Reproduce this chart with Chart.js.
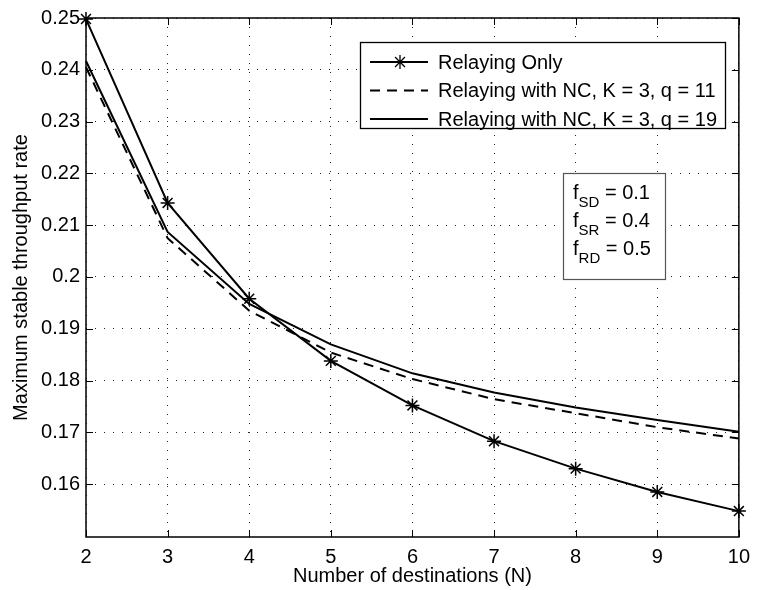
<!DOCTYPE html>
<html lang="en">
  <head>
    <meta charset="UTF-8" />
    <title>Maximum stable throughput rate</title>
    <script src="https://cdn.jsdelivr.net/npm/chart.js"></script>
    <style>
      html,
      body {
        margin: 0;
        padding: 0;
        background: #fff;
      }
      #wrap {
        width: 758px;
        height: 590px;
      }
    </style>
  </head>
  <body>
    <div id="wrap"><canvas id="chart" width="758" height="590"></canvas></div>
    <script>
      // number of destinations
      const destinations = [2, 3, 4, 5, 6, 7, 8, 9, 10]
      // throughput per series
      const relayingOnly = [0.2498, 0.2143, 0.1958, 0.1838, 0.1752, 0.1683, 0.163, 0.1585, 0.1548]
      const relayingNC11 = [0.2405, 0.2075, 0.1935, 0.1854, 0.1803, 0.1764, 0.1737, 0.171, 0.1688]
      const relayingNC19 = [0.2417, 0.2087, 0.1948, 0.187, 0.1814, 0.1777, 0.1748, 0.1724, 0.1701]
      const seriesNames = [
        'Relaying Only',
        'Relaying with NC, K = 3, q = 11',
        'Relaying with NC, K = 3, q = 19'
      ]
      const xTicks = [2, 3, 4, 5, 6, 7, 8, 9, 10]
      const yTicks = [0.16, 0.17, 0.18, 0.19, 0.2, 0.21, 0.22, 0.23, 0.24, 0.25]
      const yTickLabels = ['0.16', '0.17', '0.18', '0.19', '0.2', '0.21', '0.22', '0.23', '0.24', '0.25']
      // annotation text: [main, subscript, rest]
      const noteLines = [
        ['f', 'SD', ' = 0.1'],
        ['f', 'SR', ' = 0.4'],
        ['f', 'RD', ' = 0.5']
      ]

      const FONT = '"Liberation Sans", Arial, Helvetica, sans-serif'

      const toPoints = ys => ys.map((y, i) => ({ x: destinations[i], y: y }))

      // box, inward ticks, legend and parameter box, MATLAB style
      const matlabPlugin = {
        id: 'matlab',
        afterDatasetsDraw(chart) {
          const ctx = chart.ctx
          const a = chart.chartArea
          const xs = chart.scales.x
          const ys = chart.scales.y
          ctx.save()
          ctx.strokeStyle = '#000'
          ctx.lineWidth = 1.5
          ctx.strokeRect(a.left, a.top, a.right - a.left, a.bottom - a.top)
          ctx.lineWidth = 1
          const tl = 7
          ctx.beginPath()
          xTicks.forEach(v => {
            const px = Math.round(xs.getPixelForValue(v)) + 0.5
            ctx.moveTo(px, a.bottom)
            ctx.lineTo(px, a.bottom - tl)
            ctx.moveTo(px, a.top)
            ctx.lineTo(px, a.top + tl)
          })
          yTicks.forEach(v => {
            const py = Math.round(ys.getPixelForValue(v)) + 0.5
            ctx.moveTo(a.left, py)
            ctx.lineTo(a.left + tl, py)
            ctx.moveTo(a.right, py)
            ctx.lineTo(a.right - tl, py)
          })
          ctx.stroke()

          // legend
          const lx = 360, ly = 42, lw = 365, lh = 86
          ctx.fillStyle = '#fff'
          ctx.fillRect(lx, ly, lw, lh)
          ctx.lineWidth = 1.3
          ctx.strokeRect(lx + 0.5, ly + 0.5, lw, lh)
          ctx.font = '20px ' + FONT
          ctx.textBaseline = 'middle'
          ctx.textAlign = 'left'
          chart.data.datasets.forEach((ds, i) => {
            const cy = ly + 20 + i * 28.5
            ctx.save()
            ctx.strokeStyle = '#000'
            ctx.lineWidth = ds.borderWidth
            ctx.setLineDash(ds.borderDash || [])
            ctx.beginPath()
            ctx.moveTo(lx + 10, cy)
            ctx.lineTo(lx + 68, cy)
            ctx.stroke()
            ctx.restore()
            if (ds.pointRadius > 0) {
              Chart.helpers.drawPoint(
                ctx,
                { pointStyle: 'star', radius: ds.pointRadius, borderWidth: 1.5 },
                lx + 40,
                cy
              )
            }
            ctx.fillStyle = '#000'
            ctx.fillText(ds.label, lx + 78, cy + 1)
          })

          // parameter box
          const bx = 563, by = 173, bw = 102, bh = 106
          ctx.fillStyle = '#fff'
          ctx.fillRect(bx, by, bw, bh)
          ctx.strokeStyle = '#555'
          ctx.lineWidth = 1.2
          ctx.strokeRect(bx + 0.5, by + 0.5, bw, bh)
          ctx.fillStyle = '#000'
          ctx.textBaseline = 'alphabetic'
          noteLines.forEach((ln, i) => {
            const base = by + 26 + i * 28
            let x = bx + 10
            ctx.font = '20px ' + FONT
            ctx.fillText(ln[0], x, base)
            x += ctx.measureText(ln[0]).width
            ctx.font = '15px ' + FONT
            ctx.fillText(ln[1], x, base + 8)
            x += ctx.measureText(ln[1]).width
            ctx.font = '20px ' + FONT
            ctx.fillText(ln[2], x, base)
          })
          ctx.restore()
        }
      }

      const ctx = document.getElementById('chart').getContext('2d')
      new Chart(ctx, {
        type: 'line',
        data: {
          datasets: [
            {
              label: seriesNames[0],
              data: toPoints(relayingOnly),
              borderColor: '#000',
              backgroundColor: '#000',
              borderWidth: 2,
              pointStyle: 'star',
              pointRadius: 7,
              pointBorderWidth: 1.5,
              pointBorderColor: '#000',
              tension: 0,
              clip: false
            },
            {
              label: seriesNames[1],
              data: toPoints(relayingNC11),
              borderColor: '#000',
              borderWidth: 2,
              borderDash: [10, 7],
              pointRadius: 0,
              tension: 0,
              clip: false
            },
            {
              label: seriesNames[2],
              data: toPoints(relayingNC19),
              borderColor: '#000',
              borderWidth: 2,
              pointRadius: 0,
              tension: 0,
              clip: false
            }
          ]
        },
        options: {
          responsive: false,
          animation: false,
          events: [],
          layout: { padding: { top: 16, right: 12, left: 0, bottom: 0 } },
          plugins: {
            legend: { display: false },
            tooltip: { enabled: false }
          },
          scales: {
            x: {
              type: 'linear',
              min: 2,
              max: 10,
              afterBuildTicks: s => {
                s.ticks = xTicks.map(v => ({ value: v }))
              },
              afterFit: s => {
                s.height = 53
              },
              grid: { color: '#222', lineWidth: 1, drawTicks: false },
              border: { display: false, dash: [1, 8] },
              ticks: {
                color: '#000',
                padding: 8,
                maxRotation: 0,
                font: { family: FONT, size: 20 }
              },
              title: {
                display: true,
                text: 'Number of destinations (N)',
                color: '#000',
                font: { family: FONT, size: 20 },
                padding: { top: 0, bottom: 2 }
              }
            },
            y: {
              type: 'linear',
              min: 0.1498,
              max: 0.25,
              afterBuildTicks: s => {
                s.ticks = yTicks.map(v => ({ value: v }))
              },
              afterFit: s => {
                s.width = 86
              },
              grid: { color: '#222', lineWidth: 1, drawTicks: false },
              border: { display: false, dash: [1, 8] },
              ticks: {
                color: '#000',
                padding: 6,
                font: { family: FONT, size: 20 },
                callback: (v, i) => yTickLabels[i]
              },
              title: {
                display: true,
                text: 'Maximum stable throughput rate',
                color: '#000',
                font: { family: FONT, size: 20 },
                padding: { top: 9, bottom: 0 }
              }
            }
          }
        },
        plugins: [matlabPlugin]
      })
    </script>
  </body>
</html>
